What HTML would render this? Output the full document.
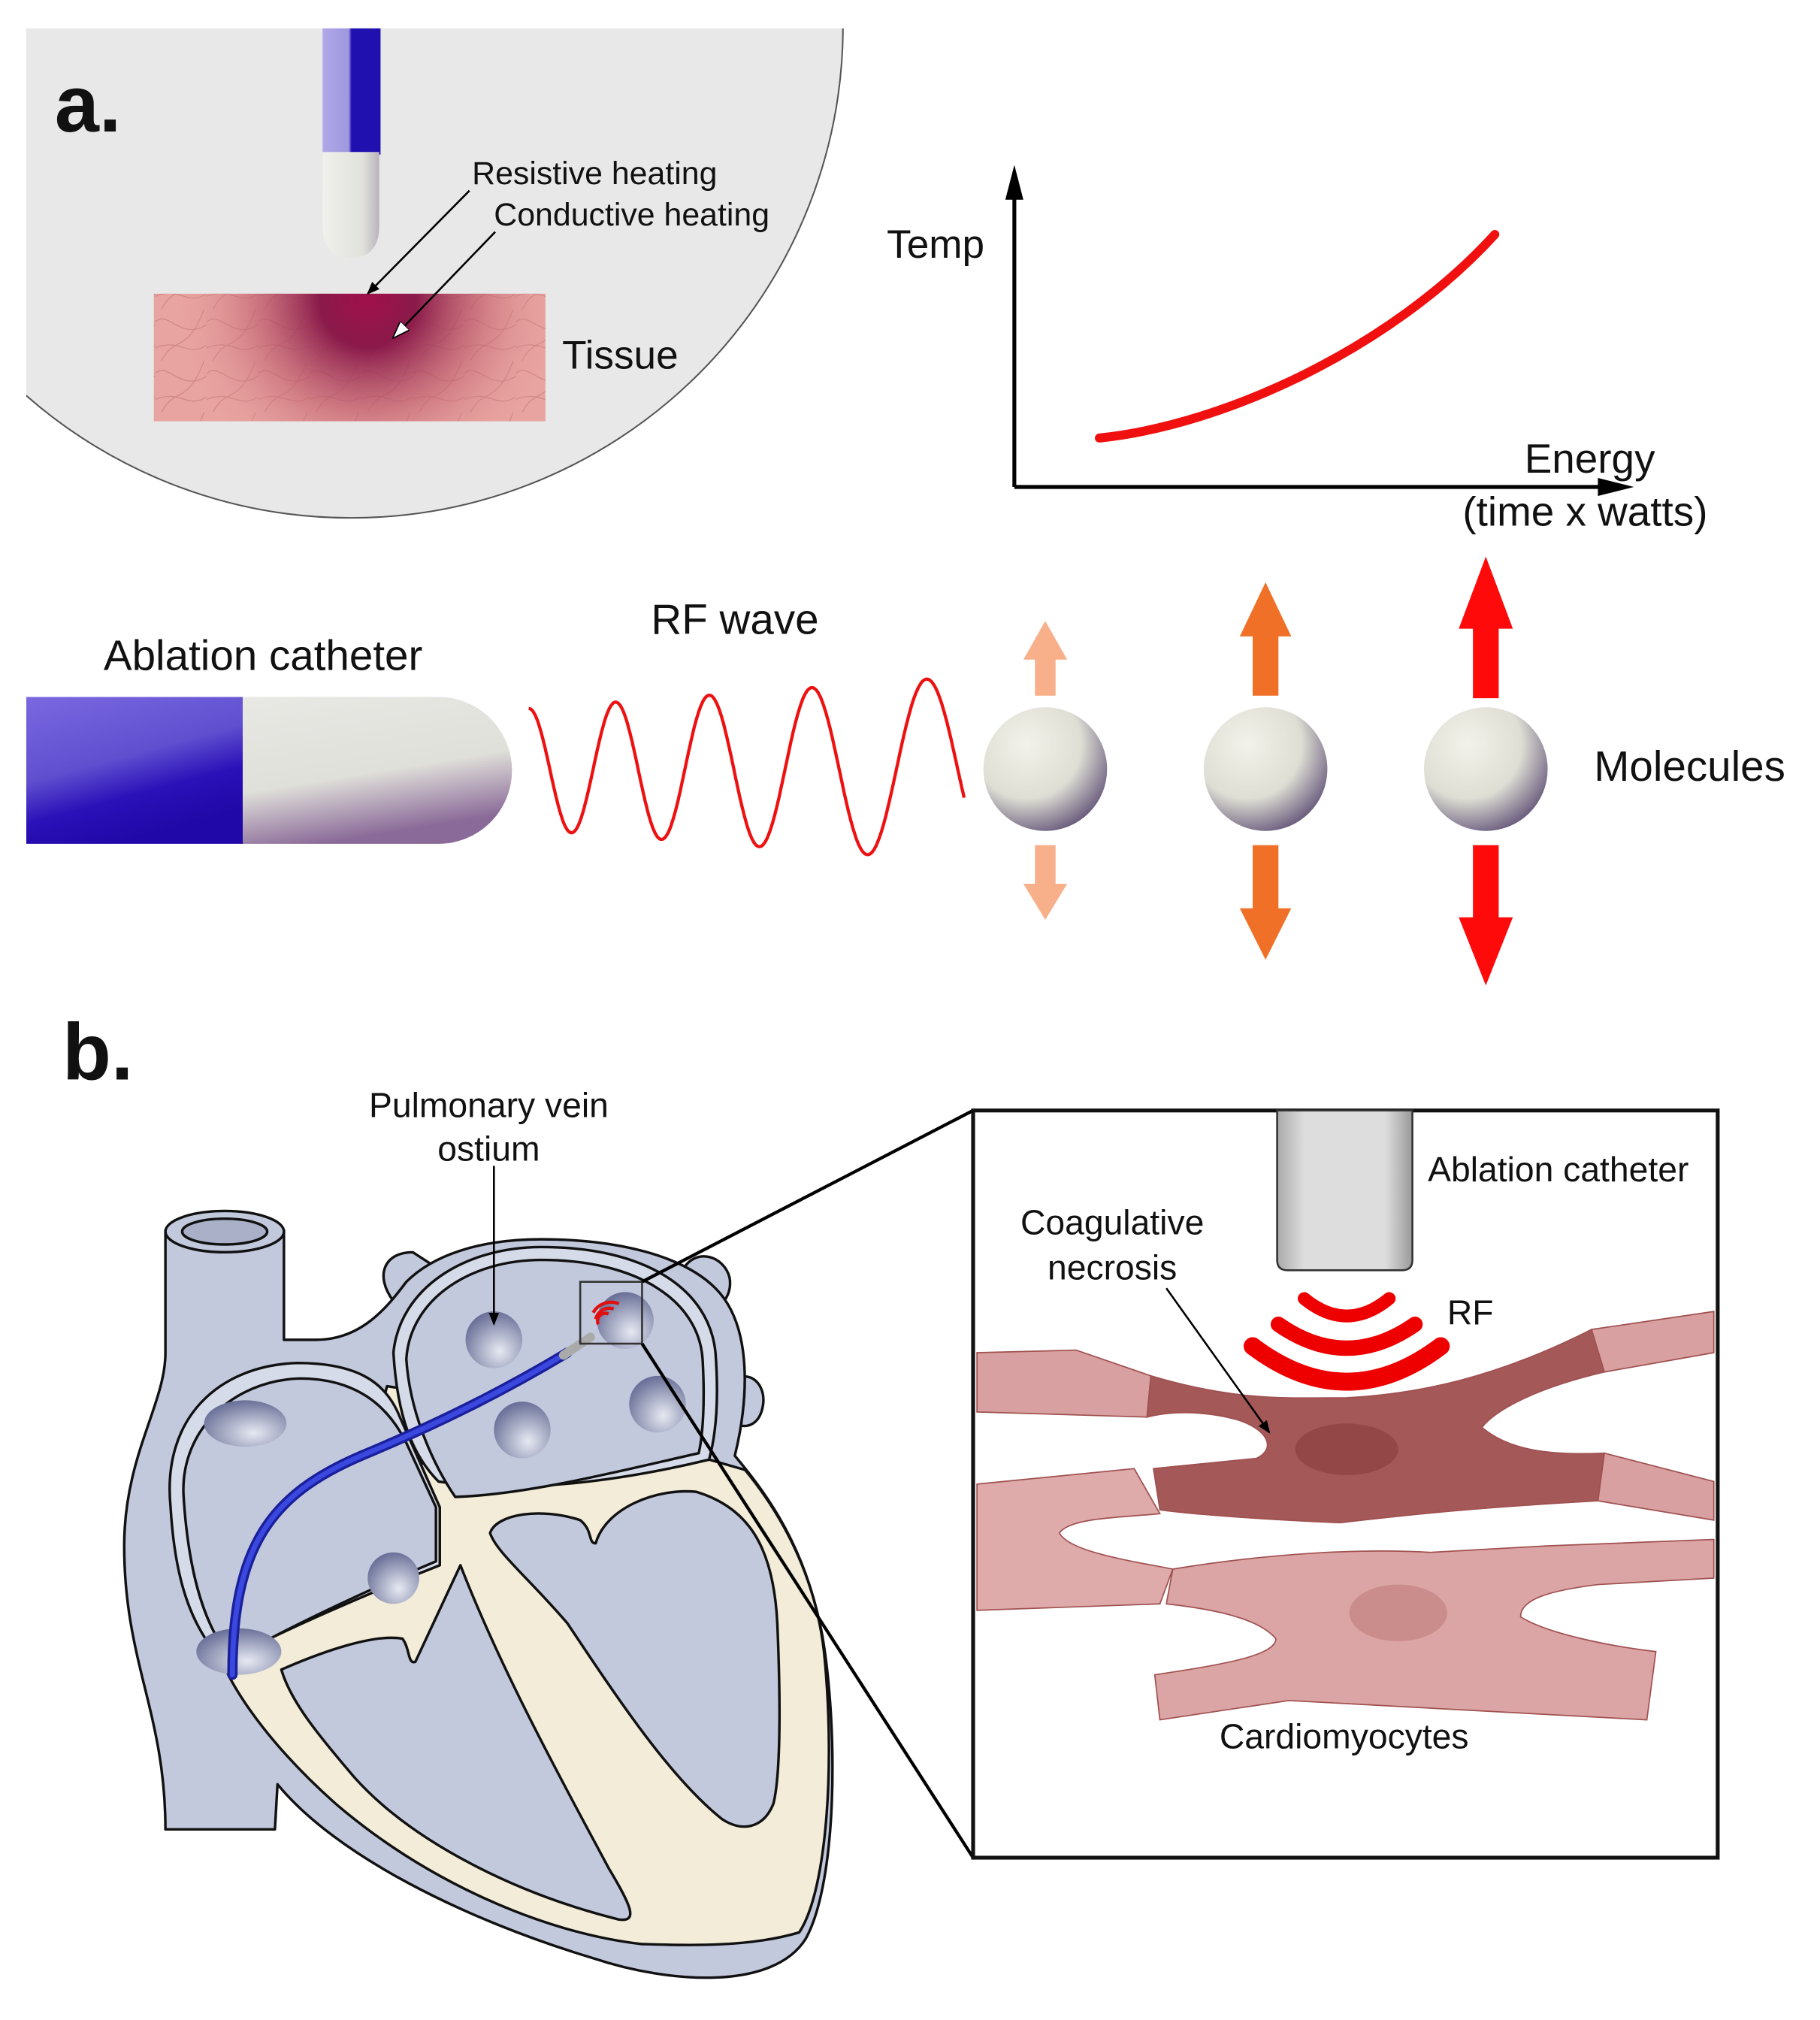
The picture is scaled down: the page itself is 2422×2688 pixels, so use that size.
<!DOCTYPE html>
<html><head><meta charset="utf-8"><style>
html,body{margin:0;padding:0;background:#fff;}
svg{display:block;}
text{font-family:"Liberation Sans",Arial,sans-serif;fill:#111;}
</style></head><body>
<svg width="2422" height="2688" viewBox="0 0 1412 1568" xmlns="http://www.w3.org/2000/svg">
<defs>
<clipPath id="cc"><rect x="20" y="22" width="700" height="400"/></clipPath>
<radialGradient id="burn" cx="285" cy="232" r="150" gradientUnits="userSpaceOnUse">
<stop offset="0" stop-color="#a0104a"/><stop offset="0.25" stop-color="#8a1a4a"/><stop offset="0.6" stop-color="#c06070" stop-opacity="0.6"/><stop offset="1" stop-color="#e8a0a0" stop-opacity="0"/></radialGradient>
<pattern id="fib" width="40" height="40" patternUnits="userSpaceOnUse"><path d="M0,10 C10,0 20,25 40,12 M5,40 C15,20 25,35 38,0 M0,30 C20,22 25,38 40,28" fill="none" stroke="#b06060" stroke-width="0.6" opacity="0.5"/></pattern>
<linearGradient id="blueBar" x1="0" x2="1"><stop offset="0" stop-color="#b0a8e8"/><stop offset="0.45" stop-color="#a098e0"/><stop offset="0.5" stop-color="#2010b0"/><stop offset="1" stop-color="#2010b0"/></linearGradient>
<linearGradient id="tipV" x1="0" x2="1"><stop offset="0" stop-color="#f0f0ec"/><stop offset="0.7" stop-color="#e2e2dc"/><stop offset="1" stop-color="#b8b4bc"/></linearGradient>
<linearGradient id="cathBlue" x1="0" y1="0" x2="0.4" y2="1"><stop offset="0" stop-color="#7a68e0"/><stop offset="0.5" stop-color="#6050d0"/><stop offset="0.75" stop-color="#2a10b8"/><stop offset="1" stop-color="#2008a8"/></linearGradient>
<linearGradient id="cathWhite" x1="0" y1="0" x2="0.3" y2="1"><stop offset="0" stop-color="#e8e8e4"/><stop offset="0.6" stop-color="#e0e0da"/><stop offset="1" stop-color="#8a6a98"/></linearGradient>
<radialGradient id="mol" cx="0.35" cy="0.3" r="0.8"><stop offset="0" stop-color="#f2f2ea"/><stop offset="0.55" stop-color="#deded4"/><stop offset="1" stop-color="#584870"/></radialGradient>
<radialGradient id="pv" cx="0.6" cy="0.7" r="0.7"><stop offset="0" stop-color="#e6e9f2"/><stop offset="1" stop-color="#6a7098"/></radialGradient>
<linearGradient id="ig" x1="0" x2="1"><stop offset="0" stop-color="#aaa"/><stop offset="0.2" stop-color="#ddd"/><stop offset="0.8" stop-color="#ddd"/><stop offset="1" stop-color="#999"/></linearGradient>
<marker id="ah" markerWidth="10" markerHeight="8" refX="9" refY="4" orient="auto" markerUnits="userSpaceOnUse"><path d="M0,0 L10,4 L0,8 Z" fill="#000"/></marker>
<marker id="ahw" markerWidth="14" markerHeight="10" refX="13" refY="5" orient="auto" markerUnits="userSpaceOnUse"><path d="M0,0 L14,5 L0,10 Z" fill="#fff" stroke="#000" stroke-width="1"/></marker>
</defs>

<g clip-path="url(#cc)">
<circle cx="272" cy="20" r="382" fill="#e8e8e8" stroke="#555" stroke-width="1.2"/>
</g>
<text x="42" y="102" font-size="62" font-weight="bold">a.</text>
<rect x="250" y="22" width="45" height="98" fill="url(#blueBar)"/>
<path d="M250,118 L294,118 L294,175 Q294,200 272,200 Q250,200 250,175 Z" fill="url(#tipV)"/>
<rect x="119" y="228" width="304" height="99" fill="#e8a4a0"/>
<rect x="119" y="228" width="304" height="99" fill="url(#fib)"/>
<rect x="119" y="228" width="304" height="99" fill="url(#burn)"/>
<line x1="364" y1="148" x2="285" y2="228" stroke="#000" stroke-width="1.5" marker-end="url(#ah)"/>
<line x1="384" y1="180" x2="305" y2="262" stroke="#000" stroke-width="1.5" marker-end="url(#ahw)"/>
<text x="366" y="143" font-size="25">Resistive heating</text>
<text x="383" y="175" font-size="25">Conductive heating</text>
<text x="436" y="286" font-size="31">Tissue</text>

<line x1="787" y1="378" x2="787" y2="140" stroke="#000" stroke-width="3"/>
<path d="M780,155 L787,128 L794,155 Z" fill="#000"/>
<line x1="787" y1="378" x2="1250" y2="378" stroke="#000" stroke-width="3"/>
<path d="M1240,371 L1268,378 L1240,385 Z" fill="#000"/>
<path d="M853,340 C950,330 1080,270 1160,182" fill="none" stroke="#f01010" stroke-width="7" stroke-linecap="round"/>
<text x="688" y="200" font-size="31">Temp</text>
<text x="1183" y="367" font-size="32">Energy</text>
<text x="1135" y="408" font-size="32">(time x watts)</text>

<text x="80" y="520" font-size="33">Ablation catheter</text>
<rect x="20" y="541" width="169" height="114" fill="url(#cathBlue)"/>
<path d="M188,541 L340,541 A57,57 0 0 1 340,655 L188,655 Z" fill="url(#cathWhite)"/>
<text x="505" y="492" font-size="33">RF wave</text>
<path id="wave" fill="none" stroke="#ee1111" stroke-width="2.5" d=""/>
<text x="1237" y="606" font-size="33">Molecules</text>
<circle cx="811" cy="597" r="48" fill="url(#mol)"/>
<circle cx="982" cy="597" r="48" fill="url(#mol)"/>
<circle cx="1153" cy="597" r="48" fill="url(#mol)"/>
<path d="M803,540 L803,512 L794,512 L811,482 L828,512 L819,512 L819,540 Z" fill="#f7b08a"/>
<path d="M803,656 L803,686 L794,686 L811,714 L828,686 L819,686 L819,656 Z" fill="#f7b08a"/>
<path d="M972,540 L972,494 L962,494 L982,452 L1002,494 L992,494 L992,540 Z" fill="#f07028"/>
<path d="M972,656 L972,705 L962,705 L982,745 L1002,705 L992,705 L992,656 Z" fill="#f07028"/>
<path d="M1143,542 L1143,488 L1132,488 L1153,432 L1174,488 L1163,488 L1163,542 Z" fill="#ff0a0a"/>
<path d="M1143,656 L1143,712 L1132,712 L1153,765 L1174,712 L1163,712 L1163,656 Z" fill="#ff0a0a"/>

<text x="48" y="838" font-size="62" font-weight="bold">b.</text>
<text x="379" y="867" font-size="27" text-anchor="middle">Pulmonary vein</text>
<text x="379" y="901" font-size="27" text-anchor="middle">ostium</text>

<!-- heart -->
<g stroke="#111" stroke-width="2" stroke-linejoin="round">
<!-- PV bumps -->
<path d="M305,1010 C290,990 298,972 320,972 L340,985 Z" fill="#c2c9dd"/>
<path d="M530,985 C540,968 562,975 566,992 C568,1005 560,1015 550,1018 Z" fill="#c2c9dd"/>
<path d="M568,1072 C582,1062 594,1075 592,1090 C590,1105 580,1110 570,1105 Z" fill="#c2c9dd"/>
<path d="M128,955 L128,1050 C128,1090 96,1130 96,1200 C96,1290 128,1330 128,1420 L213,1420 L215,1385 C260,1440 360,1490 460,1520 C520,1540 600,1545 625,1505 C650,1460 650,1340 638,1270 C625,1200 595,1160 570,1130 C580,1090 585,1030 555,1000 C530,975 480,962 420,962 C370,962 335,975 315,995 C300,1015 280,1040 245,1040 L220,1040 L220,955 Z" fill="#c2c9dd"/>
<ellipse cx="174" cy="956" rx="46" ry="16" fill="#c2c9dd"/>
<ellipse cx="174" cy="956" rx="33" ry="10" fill="#a9b0c8"/>
<!-- cream walls -->
<path d="M172,1290 C200,1270 260,1240 300,1076 L325,1080 L316,1133 C380,1150 470,1150 550,1133 L578,1141 C610,1180 635,1230 640,1290 C648,1380 640,1470 620,1500 C580,1512 530,1510 497,1509 C420,1500 330,1460 260,1400 C215,1360 185,1320 172,1290 Z" fill="#f2ecd8"/>
<!-- atria light rims -->
<path d="M132,1170 C125,1100 170,1060 230,1058 C280,1058 300,1075 310,1100 L341,1170 L341,1215 C290,1235 220,1265 173,1290 C145,1260 135,1220 132,1170 Z" fill="#d6dbea"/>
<path d="M305,1050 C310,1000 360,968 420,968 C500,968 550,1000 555,1050 C558,1090 555,1115 550,1133 C480,1150 400,1160 340,1150 C320,1130 308,1100 305,1050 Z" fill="#d6dbea"/>
<!-- RA chamber -->
<path d="M142,1160 C140,1110 180,1072 232,1070 C275,1070 300,1090 315,1120 L338,1170 L338,1212 C290,1232 225,1262 180,1288 C155,1260 145,1210 142,1160 Z" fill="#c2c9dd"/>
<!-- LA chamber -->
<path d="M315,1055 C318,1008 365,978 420,978 C495,978 542,1010 545,1055 C547,1090 545,1115 542,1128 C480,1142 410,1160 353,1162 C338,1140 318,1100 315,1055 Z" fill="#c2c9dd"/>
<!-- RV -->
<path d="M218,1296 C250,1282 290,1268 312,1272 C318,1280 316,1292 322,1290 L357,1215 C390,1300 440,1390 472,1450 C490,1480 495,1492 480,1490 C400,1470 320,1430 275,1380 C245,1345 225,1320 218,1296 Z" fill="#c2c9dd"/>
<!-- LV -->
<path d="M380,1190 C385,1175 420,1170 450,1180 C460,1188 456,1198 462,1198 C470,1170 510,1155 540,1158 C580,1170 600,1200 603,1260 C606,1330 605,1380 600,1400 C592,1420 575,1422 560,1412 C520,1380 480,1320 440,1260 C410,1225 385,1205 380,1190 Z" fill="#c2c9dd"/>
</g>
<circle cx="383" cy="1040" r="22" fill="url(#pv)"/>
<circle cx="405" cy="1110" r="22" fill="url(#pv)"/>
<circle cx="510" cy="1090" r="22" fill="url(#pv)"/>
<circle cx="485" cy="1025" r="22" fill="url(#pv)"/>
<ellipse cx="190" cy="1105" rx="32" ry="18" fill="url(#pv)"/>
<circle cx="305" cy="1225" r="20" fill="url(#pv)"/>
<ellipse cx="185" cy="1282" rx="33" ry="18" fill="url(#pv)"/>
<line x1="383" y1="905" x2="383" y2="1028" stroke="#000" stroke-width="1.5" marker-end="url(#ah)"/>
<path d="M180,1300 C180,1200 210,1160 280,1130 C340,1105 390,1080 440,1050" fill="none" stroke="#1a1f9a" stroke-width="8" stroke-linecap="round"/>
<path d="M180,1300 C180,1200 210,1160 280,1130 C340,1105 390,1080 440,1050" fill="none" stroke="#3a48e0" stroke-width="4" stroke-linecap="round"/>
<path d="M437,1052 L458,1038" stroke="#aaa" stroke-width="7" stroke-linecap="round"/>
<g fill="none" stroke="#e01010" stroke-width="2.5">
<path d="M464,1028 A6,6 0 0 1 472,1020"/><path d="M462,1024 A11,11 0 0 1 476,1016"/><path d="M460,1019 A16,16 0 0 1 480,1012"/>
</g>
<rect x="450" y="995" width="48" height="48" fill="none" stroke="#333" stroke-width="1.5"/>
<line x1="498" y1="995" x2="755" y2="862" stroke="#000" stroke-width="2.5"/>
<line x1="498" y1="1043" x2="755" y2="1442" stroke="#000" stroke-width="2.5"/>

<rect x="755" y="862" width="578" height="580" fill="#fff" stroke="#111" stroke-width="3"/>
<g stroke="#a05050" stroke-width="1">
<path d="M758,1050 L835,1048 L893,1068 L890,1100 L758,1096 Z" fill="#d8a0a0"/>
<path d="M1235,1032 L1330,1018 L1330,1050 L1245,1065 Z" fill="#d8a0a0"/>
<path d="M1245,1128 L1330,1150 L1330,1180 L1240,1165 Z" fill="#d8a0a0"/>
<path d="M758,1152 L880,1140 L900,1175 C870,1178 830,1178 822,1190 C830,1205 880,1212 910,1218 L900,1245 L758,1250 Z" fill="#deaaaa"/>
<path d="M910,1218 C990,1205 1060,1202 1110,1205 L1200,1200 L1330,1195 L1330,1225 L1240,1230 C1200,1235 1180,1242 1180,1255 C1200,1268 1250,1278 1285,1282 L1278,1335 L1000,1320 L900,1335 L896,1300 C950,1292 990,1285 990,1272 C978,1258 950,1250 905,1245 Z" fill="#dca5a5"/>
<path d="M893,1068 C960,1088 1000,1085 1045,1085 C1100,1082 1160,1070 1235,1032 L1245,1065 C1190,1078 1160,1095 1150,1108 C1170,1125 1200,1130 1245,1128 L1240,1165 C1150,1170 1100,1175 1040,1182 C990,1180 930,1176 900,1172 L895,1140 L975,1132 C990,1125 985,1110 960,1102 C930,1094 905,1096 890,1100 Z" fill="#a45858"/>
</g>
<ellipse cx="1045" cy="1125" rx="40" ry="20" fill="#8a3c3c" opacity="0.6"/>
<ellipse cx="1085" cy="1252" rx="38" ry="22" fill="#c07c7c" opacity="0.6"/>
<path d="M991,862 L1096,862 L1096,978 Q1096,986 1088,986 L999,986 Q991,986 991,978 Z" fill="url(#ig)" stroke="#333" stroke-width="1.5"/>
<g fill="none" stroke="#ee0000" stroke-linecap="round">
<path d="M1012,1008 Q1045,1035 1078,1008" stroke-width="10"/>
<path d="M992,1028 Q1045,1065 1098,1028" stroke-width="12"/>
<path d="M972,1045 Q1045,1100 1118,1045" stroke-width="14"/>
</g>
<line x1="905" y1="1000" x2="985" y2="1112" stroke="#000" stroke-width="1.5" marker-end="url(#ah)"/>
<text x="1108" y="917" font-size="27">Ablation catheter</text>
<text x="863" y="958" font-size="27" text-anchor="middle">Coagulative</text>
<text x="863" y="993" font-size="27" text-anchor="middle">necrosis</text>
<text x="1123" y="1028" font-size="27">RF</text>
<text x="1043" y="1357" font-size="27" text-anchor="middle">Cardiomyocytes</text>
</svg>
<script>
(function(){var d="",x0=410,x1=748;for(var i=0;i<=400;i++){var t=i/400;var x=x0+(x1-x0)*t;var ph=2*Math.PI*(5.2*t-0.9*t*t)+Math.PI/2;var a=47+25*t;var y=597-a*Math.sin(ph);d+=(i?"L":"M")+x.toFixed(1)+","+y.toFixed(1);}document.getElementById("wave").setAttribute("d",d);})();
</script>
</body></html>
